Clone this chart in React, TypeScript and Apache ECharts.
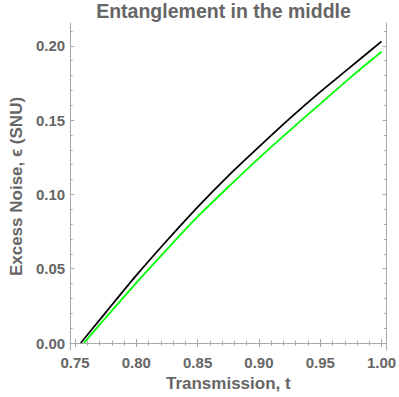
import React, { useEffect, useRef } from "react";
import * as echarts from "echarts";

const blackT = [0.7547, 0.775, 0.8, 0.825, 0.85, 0.875, 0.9, 0.925, 0.95, 0.975, 1.0];
const blackEps = [0.0, 0.0205, 0.0455, 0.069, 0.0915, 0.1125, 0.132, 0.151, 0.169, 0.186, 0.203];
const greenT = [0.7573, 0.775, 0.8, 0.825, 0.85, 0.875, 0.9, 0.925, 0.95, 0.975, 1.0];
const greenEps = [0.0, 0.017, 0.0405, 0.063, 0.085, 0.105, 0.1245, 0.143, 0.161, 0.179, 0.196];

const xMajor = [0.75, 0.8, 0.85, 0.9, 0.95, 1.0];
const xMinor = [0.76, 0.77, 0.78, 0.79, 0.81, 0.82, 0.83, 0.84, 0.86, 0.87, 0.88, 0.89, 0.91, 0.92, 0.93, 0.94, 0.96, 0.97, 0.98, 0.99];
const yMajor = [0.0, 0.05, 0.1, 0.15, 0.2];
const yMinor = [0.01, 0.02, 0.03, 0.04, 0.06, 0.07, 0.08, 0.09, 0.11, 0.12, 0.13, 0.14, 0.16, 0.17, 0.18, 0.19, 0.21];

const titleText = "Entanglement in the middle";
const xTitle = "Transmission, t";
const yTitle = "Excess Noise, \u03F5 (SNU)";

const FRAME = "#a8a8a8";
const LABEL = "#666666";
const FONT = "Liberation Sans, Arial, sans-serif";

export default function App() {
  const ref = useRef<HTMLDivElement>(null);
  useEffect(() => {
    if (!ref.current) return;
    const chart = echarts.init(ref.current, undefined, { renderer: "svg" });
    const xMin = 0.746, xMax = 1.004, yMin = -0.0047, yMax = 0.2154;
    const labelStyle = (values: number[]) => ({
      show: true,
      customValues: values,
      formatter: (v: number) => v.toFixed(2),
      color: LABEL,
      fontSize: 15,
      fontWeight: "bold",
      fontFamily: FONT,
      margin: 5,
    });
    const baseX = (position: string, values: number[], len: number, labels: boolean, line: boolean, extra: any = {}) => ({
      type: "value",
      position,
      min: xMin,
      max: xMax,
      splitLine: { show: false },
      axisLine: { show: line, lineStyle: { color: FRAME, width: 1 } },
      axisTick: { show: true, inside: true, length: len, customValues: values, lineStyle: { color: FRAME, width: 1 } },
      axisLabel: labels ? labelStyle(values) : { show: false },
      ...extra,
    });
    const baseY = (position: string, values: number[], len: number, labels: boolean, line: boolean, extra: any = {}) => ({
      type: "value",
      position,
      min: yMin,
      max: yMax,
      splitLine: { show: false },
      axisLine: { show: line, lineStyle: { color: FRAME, width: 1 } },
      axisTick: { show: true, inside: true, length: len, customValues: values, lineStyle: { color: FRAME, width: 1 } },
      axisLabel: labels ? labelStyle(values) : { show: false },
      ...extra,
    });
    chart.setOption({
      animation: false,
      backgroundColor: "#ffffff",
      title: {
        text: titleText,
        left: 223.5,
        top: 1,
        padding: 0,
        textAlign: "center",
        textStyle: { color: LABEL, fontSize: 19.5, fontWeight: "bold", fontFamily: FONT },
      },
      grid: { left: 60, right: 12, top: 23, bottom: 46, containLabel: false },
      xAxis: [
        baseX("bottom", xMajor, 4, true, true, {
          name: xTitle,
          nameLocation: "middle",
          nameGap: 25,
          nameTextStyle: { color: LABEL, fontSize: 17, fontWeight: "bold", fontFamily: FONT, verticalAlign: "top" },
        }),
        baseX("bottom", xMinor, 2.5, false, false),
        baseX("top", xMajor, 4, false, true),
        baseX("top", xMinor, 2.5, false, false),
      ],
      yAxis: [
        baseY("left", yMajor, 4, true, true, {
          name: yTitle,
          nameLocation: "middle",
          nameGap: 41,
          nameTextStyle: { color: LABEL, fontSize: 17, fontWeight: "bold", fontFamily: FONT },
        }),
        baseY("left", yMinor, 2.5, false, false),
        baseY("right", yMajor, 4, false, true),
        baseY("right", yMinor, 2.5, false, false),
      ],
      series: [
        {
          type: "line",
          xAxisIndex: 0,
          yAxisIndex: 0,
          data: blackT.map((t, i) => [t, blackEps[i]]),
          smooth: 0.3,
          showSymbol: false,
          lineStyle: { color: "#000000", width: 1.8 },
        },
        {
          type: "line",
          xAxisIndex: 0,
          yAxisIndex: 0,
          data: greenT.map((t, i) => [t, greenEps[i]]),
          smooth: 0.3,
          showSymbol: false,
          lineStyle: { color: "#00ff00", width: 1.8 },
        },
      ],
    });
    return () => chart.dispose();
  }, []);
  return <div ref={ref} style={{ position: "fixed", left: 0, top: 0, width: 399, height: 397 }} />;
}
